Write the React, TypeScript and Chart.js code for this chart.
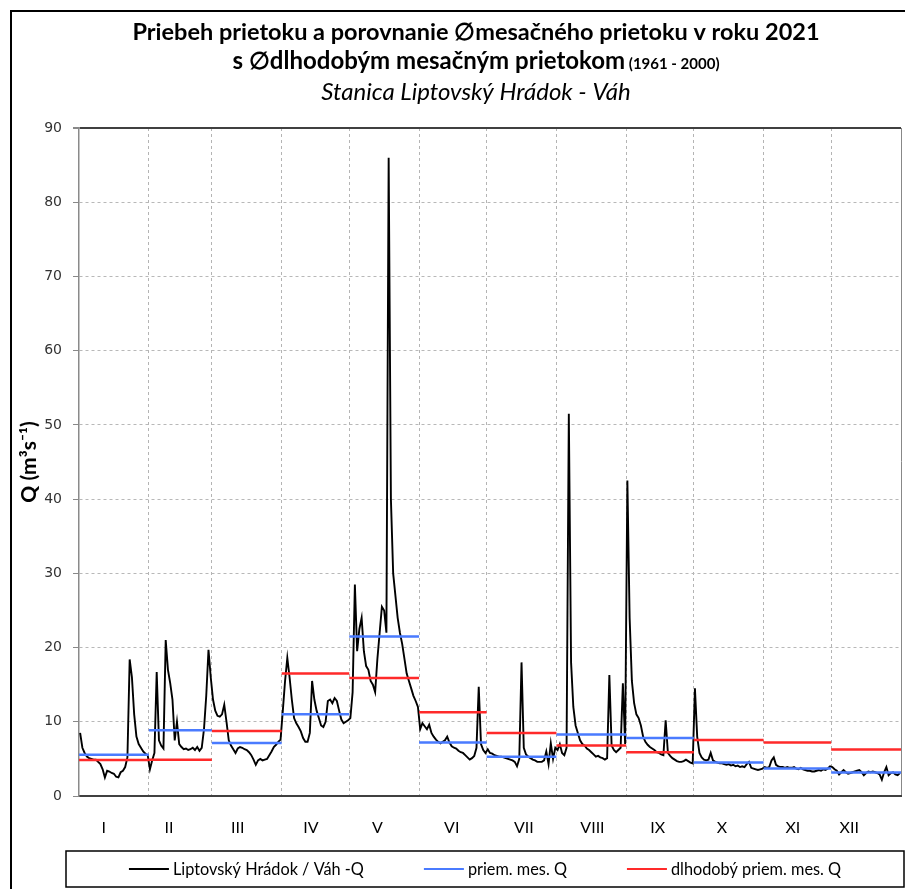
import React, { useEffect, useRef } from 'react';
import { Chart, registerables } from 'chart.js';

Chart.register(...registerables);

// ---------- data ----------
const monthLabels = ['I', 'II', 'III', 'IV', 'V', 'VI', 'VII', 'VIII', 'IX', 'X', 'XI', 'XII'];
const monthDays = [31, 28, 31, 30, 31, 30, 31, 31, 30, 31, 30, 31];
// day-of-year positions where the month labels are written
const monthLabelPos = [11, 40, 70.5, 103, 132.5, 165.5, 197.5, 228, 257, 285.5, 317, 342];
const yTicks = [0, 10, 20, 30, 40, 50, 60, 70, 80, 90];

const qJan = [8.5, 6.5, 5.8, 5.3, 5.1, 5.0, 4.9, 4.9, 4.6, 4.3, 3.6, 2.5, 3.4, 3.3, 3.1, 3.0, 2.6, 2.5, 3.2, 3.4, 3.9, 5.2, 18.4, 16.0, 11.0, 8.0, 7.0, 6.5, 6.0, 5.7, 5.5];
const qFeb = [3.6, 4.8, 5.8, 16.7, 7.5, 6.8, 6.4, 21.0, 17.0, 15.2, 13.0, 7.5, 10.0, 7.0, 6.6, 6.3, 6.4, 6.2, 6.3, 6.5, 6.2, 6.6, 6.1, 6.5, 9.0, 13.5, 19.7, 16.0];
const qMar = [13.0, 11.5, 10.8, 10.7, 11.0, 12.3, 10.0, 7.5, 6.8, 6.3, 5.8, 6.4, 6.6, 6.5, 6.3, 6.2, 5.9, 5.5, 4.9, 4.2, 4.8, 5.0, 4.8, 4.9, 5.0, 5.5, 6.0, 6.6, 6.9, 7.3, 7.6];
const qApr = [11.5, 15.5, 18.6, 16.0, 13.0, 10.5, 9.8, 9.3, 8.7, 7.8, 7.3, 7.3, 8.5, 15.5, 13.0, 11.5, 10.5, 9.5, 9.3, 10.0, 12.8, 13.0, 12.5, 13.2, 12.8, 11.5, 10.3, 9.8, 10.0, 10.2];
const qMay = [10.5, 14.0, 28.5, 19.5, 22.5, 24.0, 19.5, 17.5, 17.0, 15.5, 15.0, 14.0, 18.5, 22.0, 25.5, 25.0, 22.0, 86.0, 40.0, 30.0, 27.0, 24.0, 22.0, 20.5, 18.5, 16.5, 15.5, 14.5, 13.5, 12.8, 12.0];
const qJun = [9.0, 9.8, 9.4, 9.0, 9.6, 8.5, 8.0, 7.6, 7.3, 7.1, 7.3, 7.5, 8.0, 7.2, 6.7, 6.5, 6.4, 6.1, 5.9, 5.8, 5.5, 5.2, 4.9, 5.1, 5.4, 6.5, 14.7, 7.0, 6.2, 5.8];
const qJul = [6.3, 5.8, 5.7, 5.5, 5.4, 5.3, 5.3, 5.2, 5.1, 5.0, 4.9, 4.8, 4.6, 4.0, 5.0, 18.0, 6.5, 5.6, 5.3, 5.1, 4.9, 4.8, 4.6, 4.6, 4.6, 4.8, 6.0, 4.3, 7.1, 5.0, 6.5];
const qAug = [6.2, 7.0, 5.8, 5.5, 6.5, 51.5, 18.0, 12.0, 9.5, 8.5, 7.5, 7.0, 6.8, 6.4, 6.2, 5.9, 5.6, 5.3, 5.4, 5.2, 5.1, 4.9, 5.1, 16.3, 6.8, 6.2, 5.9, 6.2, 6.5, 15.2, 7.0];
const qSep = [42.5, 24.0, 15.5, 12.5, 11.0, 10.5, 9.5, 8.0, 7.3, 6.9, 6.6, 6.4, 6.2, 5.9, 5.8, 5.6, 5.5, 10.2, 5.8, 5.4, 5.1, 4.9, 4.7, 4.6, 4.6, 4.7, 4.9, 4.7, 4.5, 4.4];
const qOct = [14.5, 8.0, 5.8, 5.2, 4.9, 4.8, 4.9, 5.8, 4.8, 4.6, 4.5, 4.4, 4.4, 4.3, 4.2, 4.3, 4.1, 4.2, 4.0, 4.1, 3.9, 4.0, 3.9, 4.3, 4.6, 3.8, 3.7, 3.6, 3.5, 3.6, 3.7];
const qNov = [3.9, 3.8, 3.9, 4.8, 5.2, 4.2, 4.0, 3.9, 3.9, 3.8, 3.9, 3.8, 3.8, 3.9, 3.7, 3.6, 3.8, 3.6, 3.5, 3.4, 3.4, 3.3, 3.3, 3.4, 3.5, 3.4, 3.6, 3.5, 3.7, 4.0];
const qDec = [3.9, 3.6, 3.4, 2.9, 3.2, 3.5, 3.2, 3.0, 3.1, 3.2, 3.3, 3.4, 3.5, 3.2, 2.8, 3.1, 3.3, 3.2, 3.3, 3.2, 3.1, 2.9, 2.2, 3.2, 3.9, 2.8, 3.1, 3.2, 2.9, 2.8, 3.1];

const monthlyMean2021 = [5.57, 8.85, 7.14, 11.0, 21.5, 7.2, 5.3, 8.3, 7.8, 4.5, 3.7, 3.15];
const longTermMean = [4.85, 4.9, 8.76, 16.5, 15.9, 11.3, 8.5, 6.8, 5.9, 7.55, 7.2, 6.25];

const seriesLabels = ['Liptovský Hrádok / Váh -Q', 'priem. mes. Q', 'dlhodobý priem. mes. Q'];

const titleLine1 = 'Priebeh prietoku a porovnanie \u2205mesačného prietoku v roku 2021';
const titleLine2 = 's \u2205dlhodobým mesačným prietokom';
const titleLine2Small = ' (1961 - 2000)';
const titleLine3 = 'Stanica Liptovský Hrádok - Váh';
const yAxisTitle = 'Q (m³s⁻¹)';

// ---------- derived ----------
const dailyQ = [...qJan, ...qFeb, ...qMar, ...qApr, ...qMay, ...qJun, ...qJul, ...qAug, ...qSep, ...qOct, ...qNov, ...qDec];
const monthStarts: number[] = [];
{
  let acc = 0;
  for (const d of monthDays) { monthStarts.push(acc); acc += d; }
}
const yearDays = monthDays.reduce((a, b) => a + b, 0);
const boundaries = [...monthStarts, yearDays];

function stepPoints(values: number[]) {
  const pts: { x: number; y: number | null }[] = [];
  values.forEach((v, m) => {
    const s = monthStarts[m];
    const e = s + monthDays[m];
    pts.push({ x: s, y: v }, { x: e, y: v }, { x: e, y: null });
  });
  return pts;
}

const FONT = 'Lato, "Open Sans", sans-serif';

const titlePlugin = {
  id: 'titleText',
  afterDraw(chart: any) {
    const { ctx } = chart;
    const cx = 464;
    ctx.save();
    ctx.fillStyle = '#000';
    ctx.textBaseline = 'alphabetic';
    ctx.textAlign = 'center';
    ctx.font = `bold 23.5px ${FONT}`;
    ctx.fillText(titleLine1, cx, 28);
    ctx.textAlign = 'left';
    ctx.font = `bold 24px ${FONT}`;
    const w1 = ctx.measureText(titleLine2).width;
    ctx.font = `bold 15px ${FONT}`;
    const w2 = ctx.measureText(titleLine2Small).width;
    const sx = cx - (w1 + w2) / 2;
    ctx.font = `bold 24px ${FONT}`;
    ctx.fillText(titleLine2, sx, 57);
    ctx.font = `bold 15px ${FONT}`;
    ctx.fillText(titleLine2Small, sx + w1, 57);
    ctx.textAlign = 'center';
    ctx.font = `italic 24px ${FONT}`;
    ctx.fillText(titleLine3, cx, 88);
    ctx.restore();
  },
};

const legendPlugin = {
  id: 'boxedLegend',
  afterDraw(chart: any) {
    const { ctx, chartArea } = chart;
    const h = 36;
    const top = chart.height - h - 2;
    const left = chartArea.left - 13;
    const right = chartArea.right + 3;
    ctx.save();
    ctx.strokeStyle = '#000';
    ctx.lineWidth = 1.5;
    ctx.strokeRect(left, top, right - left, h);
    ctx.font = `16.3px ${FONT}`;
    ctx.textBaseline = 'middle';
    ctx.textAlign = 'left';
    const sample = 40, gap = 4, spacing = 60;
    const items = chart.data.datasets.map((ds: any) => ({ text: ds.label, color: ds.borderColor, w: ctx.measureText(ds.label).width }));
    const total = items.reduce((a: number, it: any) => a + sample + gap + it.w, 0) + spacing * (items.length - 1);
    let x = (left + right) / 2 - total / 2;
    const cy = top + h / 2;
    items.forEach((it: any) => {
      ctx.strokeStyle = it.color;
      ctx.lineWidth = 2;
      ctx.beginPath();
      ctx.moveTo(x, cy);
      ctx.lineTo(x + sample, cy);
      ctx.stroke();
      ctx.fillStyle = '#000';
      ctx.fillText(it.text, x + sample + gap, cy + 1);
      x += sample + gap + it.w + spacing;
    });
    ctx.restore();
  },
};

export default function App() {
  const ref = useRef<HTMLCanvasElement | null>(null);

  useEffect(() => {
    if (!ref.current) return;
    const isBoundary = (v: number) => boundaries.includes(v);
    const chart = new Chart(ref.current, {
      type: 'line',
      data: {
        datasets: [
          {
            label: seriesLabels[0],
            data: dailyQ.map((y, i) => ({ x: i + 0.5, y })),
            borderColor: '#000000',
            borderWidth: 1.9,
            pointRadius: 0,
            tension: 0,
            order: 3,
          },
          {
            label: seriesLabels[1],
            data: stepPoints(monthlyMean2021),
            borderColor: '#4a7bff',
            borderWidth: 2.5,
            pointRadius: 0,
            spanGaps: false,
            order: 2,
          },
          {
            label: seriesLabels[2],
            data: stepPoints(longTermMean),
            borderColor: '#ff2a2a',
            borderWidth: 2.5,
            pointRadius: 0,
            spanGaps: false,
            order: 1,
          },
        ],
      },
      options: {
        responsive: false,
        animation: false,
        events: [],
        layout: { autoPadding: false, padding: { top: 116, right: 4, bottom: 53, left: 0 } },
        plugins: {
          legend: { display: false },
          title: { display: false },
          tooltip: { enabled: false },
        },
        scales: {
          x: {
            type: 'linear',
            min: 0,
            max: yearDays,
            afterBuildTicks: (scale: any) => {
              const vals = [...boundaries, ...monthLabelPos].sort((a, b) => a - b);
              scale.ticks = vals.map((v) => ({ value: v }));
            },
            afterFit: (scale: any) => {
              scale.height = 40;
              scale.paddingRight = 0;
              scale.paddingLeft = 0;
            },
            ticks: {
              autoSkip: false,
              maxRotation: 0,
              minRotation: 0,
              padding: 22,
              color: '#000',
              font: { family: FONT, size: 16 },
              callback: (v: any) => {
                const i = monthLabelPos.indexOf(Number(v));
                return i >= 0 ? monthLabels[i] : '';
              },
            },
            grid: {
              drawTicks: false,
              color: (c: any) => {
                const v = c.tick ? c.tick.value : -1;
                if (v === yearDays) return '#888888';
                if (v === 0) return 'rgba(0,0,0,0)';
                return isBoundary(v) ? '#b4b4b4' : 'rgba(0,0,0,0)';
              },
              lineWidth: 1,
            },
            border: {
              display: true,
              color: '#404040',
              width: 2,
              dash: (c: any) => (c.tick && c.tick.value === yearDays ? [] : [3, 3]),
            },
          },
          y: {
            type: 'linear',
            min: 0,
            max: 90,
            afterBuildTicks: (scale: any) => {
              scale.ticks = yTicks.map((v) => ({ value: v }));
            },
            afterFit: (scale: any) => { scale.width = 67; },
            ticks: {
              padding: 11,
              color: '#333',
              font: { family: 'DejaVu Sans', size: 14 },
            },
            grid: {
              drawTicks: true,
              tickLength: 6,
              tickColor: '#888888',
              color: (c: any) => {
                const v = c.tick ? c.tick.value : -1;
                if (v === 90) return '#404040';
                if (v === 0) return 'rgba(0,0,0,0)';
                return '#b8b8b8';
              },
              lineWidth: (c: any) => (c.tick && c.tick.value === 90 ? 2 : 1),
            },
            border: {
              display: true,
              color: '#8a8a8a',
              width: 1.5,
              dash: (c: any) => (c.tick && c.tick.value === 90 ? [] : [3, 3]),
            },
            title: {
              display: true,
              text: yAxisTitle,
              color: '#000',
              font: { family: FONT, size: 21, weight: 'bold' },
              padding: { top: 5, bottom: 0 },
            },
          },
        },
      },
      plugins: [titlePlugin, legendPlugin],
    } as any);
    return () => chart.destroy();
  }, []);

  return (
    <div style={{ position: 'fixed', left: 0, top: 0, width: 905, height: 889, overflow: 'hidden', background: '#fff' }}>
      <div style={{ position: 'absolute', left: 10, top: 10, width: 1000, height: 1000, border: '2px solid #000', boxSizing: 'border-box' }} />
      <canvas ref={ref} width={893} height={877} style={{ position: 'absolute', left: 12, top: 12, width: 893, height: 877 }} />
    </div>
  );
}
